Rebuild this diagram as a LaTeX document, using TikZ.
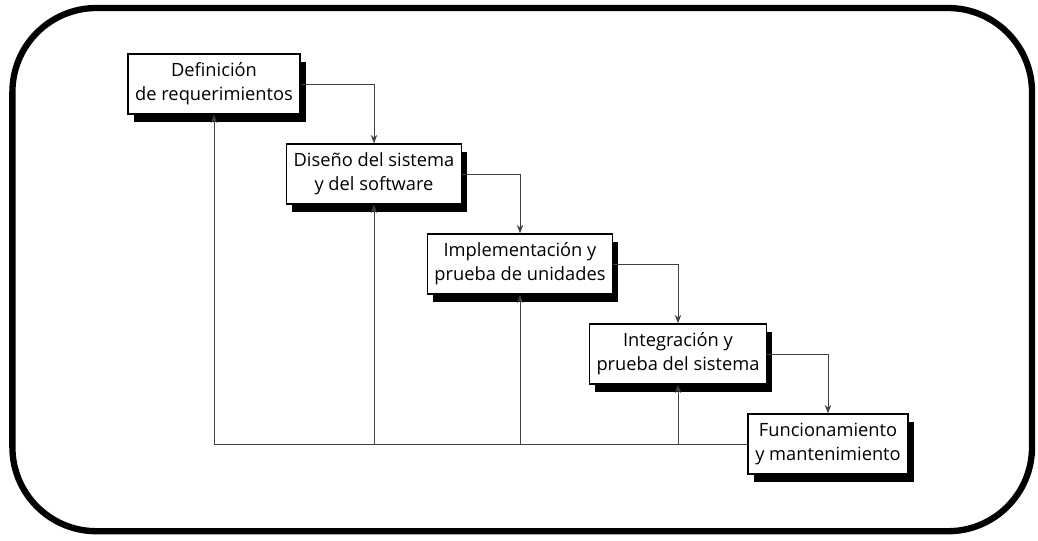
\documentclass[tikz,border=0pt]{standalone}
\usepackage{fontspec}
\setmainfont{Open Sans}
\usetikzlibrary{positioning, shadows, arrows.meta}

\begin{document}
\begin{tikzpicture}[node distance = 2.25cm and 4cm, on grid,
    phase/.style = {draw, line width=0.9pt, fill=white, align=center,
      inner xsep=0.18cm, minimum height=1.5cm,
      font=\fontsize{13}{17}\selectfont,
      drop shadow={shadow xshift=4pt, shadow yshift=-6pt, opacity=1, fill=black}},
    flow/.style = {-{Stealth[length=6pt, width=4.5pt]}, line width=0.6pt, draw=black!75}]
  \useasboundingbox (0,0) rectangle (25.95,-13.5);
  \draw[line width=4.5pt, rounded corners=2.1cm] (0.31,-0.2) rectangle (25.8,-13.28);

  \node[phase] (req) at (5.35,-2.1) {Definición\\de requerimientos};
  \node[phase] (dis) [below right=2.25cm and 4cm of req] {Diseño del sistema\\y del software};
  \node[phase] (imp) [below right=2.25cm and 3.65cm of dis] {Implementación y\\prueba de unidades};
  \node[phase] (int) [below right=2.25cm and 3.95cm of imp] {Integración y\\prueba del sistema};
  \node[phase] (fun) [below right=2.25cm and 3.75cm of int] {Funcionamiento\\y mantenimiento};

  % cascada
  \draw[flow] (req.east) -| (dis.north);
  \draw[flow] (dis.east) -| (imp.north);
  \draw[flow] (imp.east) -| (int.north);
  \draw[flow] (int.east) -| (fun.north);

  % retroalimentacion
  \draw[flow] (fun.west) -| (req.south);
  \draw[flow] (dis.south |- fun.west) -- (dis.south);
  \draw[flow] (imp.south |- fun.west) -- (imp.south);
  \draw[flow] (int.south |- fun.west) -- (int.south);
\end{tikzpicture}
\end{document}
